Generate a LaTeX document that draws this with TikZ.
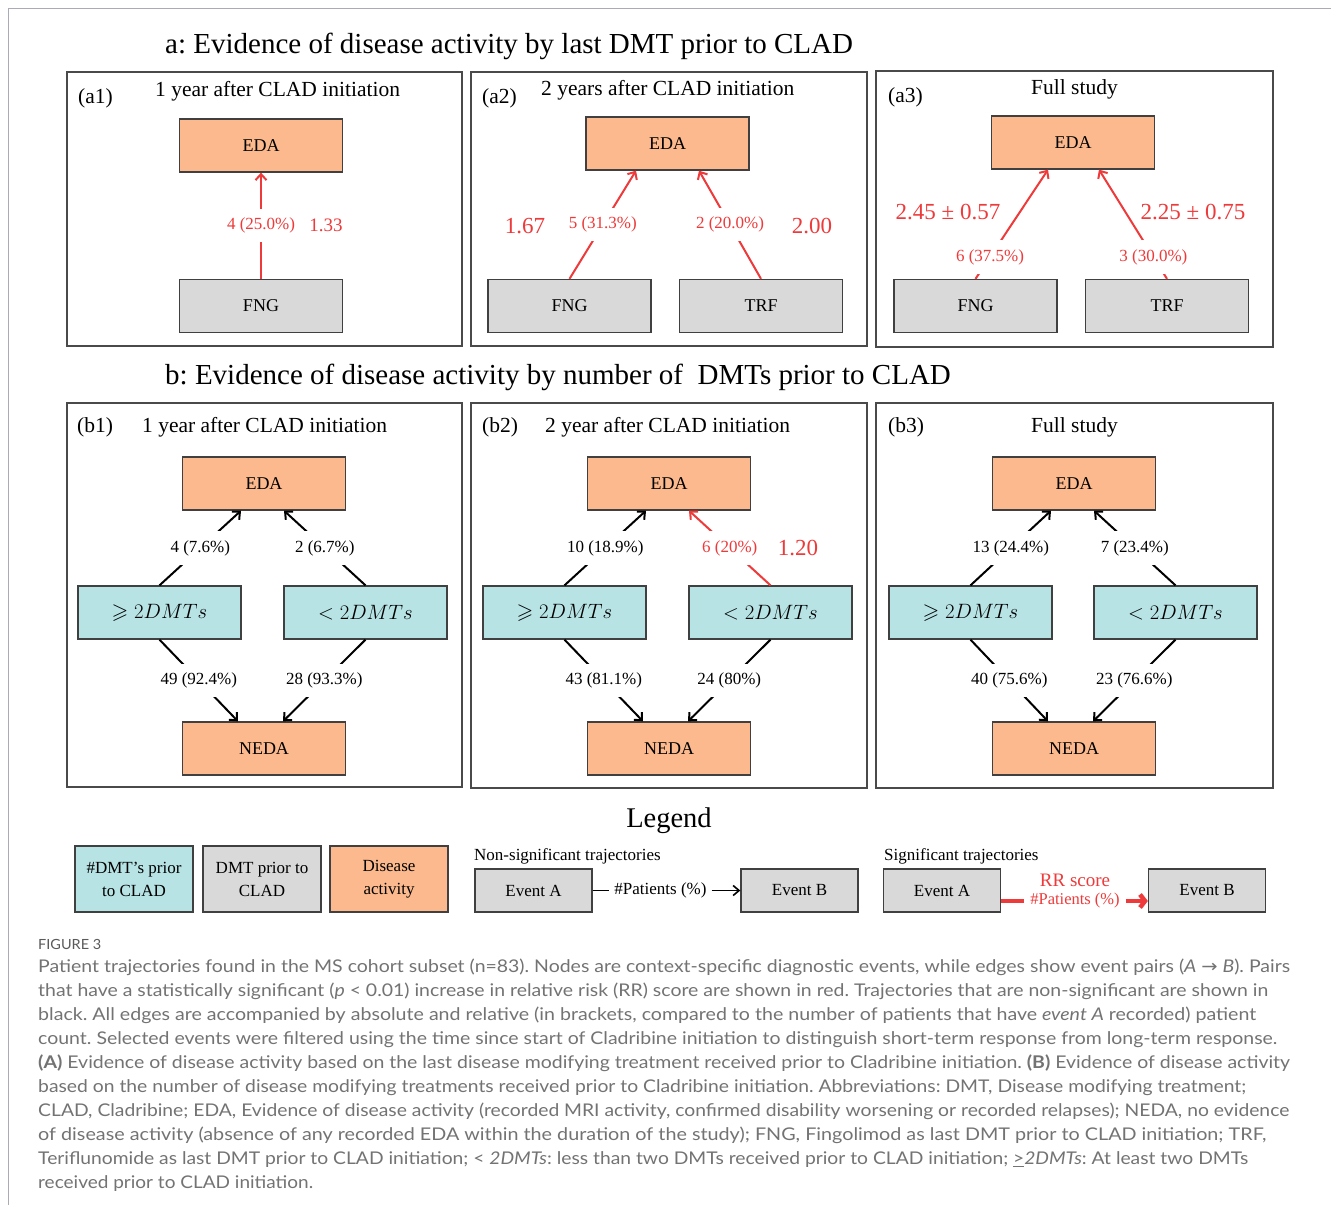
\documentclass[tikz,border=0pt]{standalone}
\usepackage{amssymb}
\usepackage{graphicx}
\usepackage[no-math]{fontspec}
\setmainfont{Liberation Serif}
\newfontfamily\capfont{Lato}
\newfontfamily\symfont{DejaVu Sans}
\usetikzlibrary{arrows.meta,calc}
\definecolor{peach}{HTML}{FBB98D}
\definecolor{greyf}{HTML}{D9D9D9}
\definecolor{cyanf}{HTML}{B7E3E5}
\definecolor{boxc}{HTML}{404040}
\definecolor{panelc}{HTML}{4A4A4A}
\definecolor{redc}{HTML}{EE3A3A}
\definecolor{framec}{HTML}{ABABB8}
\definecolor{capc}{HTML}{737373}
\definecolor{capd}{HTML}{5A5A5A}
\frenchspacing
\newcommand\fs[1]{\fontsize{#1}{#1}\selectfont}
\newcommand\capline[3]{\node[anchor=base west, inner sep=0pt, text=capc] at (38,#1) {\resizebox{#2pt}{\height}{\capfont\fs{17.5}#3}};}
\begin{document}
\begin{tikzpicture}[x=1pt,y=-1pt,
  panel/.style={draw=panelc, line width=1.4pt},
  bx/.style={draw=boxc, line width=1.3pt, minimum width=163pt, minimum height=53pt, inner sep=0pt, font=\fs{18}},
  edabox/.style={bx, fill=peach},
  dmtbox/.style={bx, fill=greyf},
  numbox/.style={bx, fill=cyanf, font=\fs{21.5}},
  lbl/.style={fill=white, inner xsep=2pt, inner ysep=9pt, font=\fs{17}},
  rlbl/.style={lbl, text=redc},
  ar/.style={line width=2pt, -{Straight Barb[length=6pt,width=11pt]}},
  rar/.style={ar, draw=redc},
  rr/.style={text=redc, font=\fs{23}},
  ptitle/.style={anchor=base west, font=\fs{21.5}, inner sep=0pt},
  mtitle/.style={anchor=base west, font=\fs{29}, inner sep=0pt},
  lgbox/.style={draw=boxc, line width=1.3pt, minimum width=118pt, minimum height=66pt, inner sep=0pt, align=center, font=\fontsize{17}{23}\selectfont},
  evbox/.style={draw=boxc, line width=1.3pt, fill=greyf, minimum width=117pt, minimum height=43pt, inner sep=0pt, font=\fs{17}},
  lgtext/.style={anchor=base west, font=\fs{17}, inner sep=0pt}
]
\useasboundingbox (0,0) rectangle (1331,1205);
\fill[white] (0,0) rectangle (1331,1205);
\draw[framec, line width=1.5pt] (8.5,1205) -- (8.5,8.5) -- (1331,8.5);

% ---------- main titles
\node[mtitle] (ta) at (165,53) {a: Evidence of disease activity by last DMT prior to CLAD};
\node[mtitle] (tb) at (165,384) {b: Evidence of disease activity by number of \ DMTs prior to CLAD};

% ---------- panels
\draw[panel] (67,72) rectangle (462,346);
\draw[panel] (471,72) rectangle (867,346);
\draw[panel] (876,71) rectangle (1273,347);
\draw[panel] (67,403) rectangle (462,787);
\draw[panel] (471,403) rectangle (867,788);
\draw[panel] (876,403) rectangle (1273,788);

% ---------- a1
\node[ptitle] (a1l) at (78,103) {(a1)};
\node[ptitle] (a1t) at (155,96) {1 year after CLAD initiation};
\node[edabox] (a1eda) at (261,145.5) {EDA};
\node[dmtbox] (a1fng) at (261,306) {FNG};
\draw[rar] (a1fng.north) -- node[rlbl] {4 (25.0\%)} (a1eda.south);
\node[text=redc, font=\fs{19}] (a1rr) at (326,225) {1.33};

% ---------- a2
\node[ptitle] (a2l) at (482,103) {(a2)};
\node[ptitle] (a2t) at (541,95) {2 years after CLAD initiation};
\node[edabox] (a2eda) at (667.5,143.5) {EDA};
\node[dmtbox] (a2fng) at (569.5,306) {FNG};
\node[dmtbox] (a2trf) at (761,306) {TRF};
\draw[rar] (a2fng.north) -- node[rlbl] {5 (31.3\%)} ([xshift=-31.5pt]a2eda.south);
\draw[rar] (a2trf.north) -- node[rlbl] {2 (20.0\%)} ([xshift=31.5pt]a2eda.south);
\node[rr] (a2rr1) at (525,226) {1.67};
\node[rr] (a2rr2) at (812,226) {2.00};

% ---------- a3
\node[ptitle] (a3l) at (888,102) {(a3)};
\node[ptitle] (a3t) at (1031,94.5) {Full study};
\node[edabox] (a3eda) at (1073,142.5) {EDA};
\node[dmtbox] (a3fng) at (975.5,306) {FNG};
\node[dmtbox] (a3trf) at (1167,306) {TRF};
\draw[rar] (a3fng.north) -- node[rlbl, pos=0.2] {6 (37.5\%)} ([xshift=-25pt]a3eda.south);
\draw[rar] (a3trf.north) -- node[rlbl, pos=0.2] {3 (30.0\%)} ([xshift=26pt]a3eda.south);
\node[rr] (a3rr1) at (948,212) {2.45 ± 0.57};
\node[rr] (a3rr2) at (1193,212) {2.25 ± 0.75};

% ---------- b1
\node[ptitle] (b1l) at (77,432) {(b1)};
\node[ptitle] (b1t) at (142,432) {1 year after CLAD initiation};
\node[edabox] (b1eda) at (264,483.5) {EDA};
\node[numbox] (b1g) at (159.5,612.5) {$\geqslant 2DMTs$};
\node[numbox] (b1s) at (365.5,612.5) {$< 2DMTs$};
\node[edabox] (b1neda) at (264,748.5) {NEDA};
\draw[ar] (b1g.north) -- node[lbl] {4 (7.6\%)} ([xshift=-23pt]b1eda.south);
\draw[ar] (b1s.north) -- node[lbl] {2 (6.7\%)} ([xshift=20pt]b1eda.south);
\draw[ar] (b1g.south) -- node[lbl] {49 (92.4\%)} ([xshift=-26pt]b1neda.north);
\draw[ar] (b1s.south) -- node[lbl] {28 (93.3\%)} ([xshift=19pt]b1neda.north);

% ---------- b2
\node[ptitle] (b2l) at (482,432) {(b2)};
\node[ptitle] (b2t) at (545,432) {2 year after CLAD initiation};
\node[edabox] (b2eda) at (669,483.5) {EDA};
\node[numbox] (b2g) at (564.5,612.5) {$\geqslant 2DMTs$};
\node[numbox] (b2s) at (770.5,612.5) {$< 2DMTs$};
\node[edabox] (b2neda) at (669,748.5) {NEDA};
\draw[ar] (b2g.north) -- node[lbl] {10 (18.9\%)} ([xshift=-23pt]b2eda.south);
\draw[rar] (b2s.north) -- node[rlbl] {6 (20\%)} ([xshift=20pt]b2eda.south);
\draw[ar] (b2g.south) -- node[lbl] {43 (81.1\%)} ([xshift=-26pt]b2neda.north);
\draw[ar] (b2s.south) -- node[lbl] {24 (80\%)} ([xshift=19pt]b2neda.north);
\node[rr] (b2rr) at (798,548) {1.20};

% ---------- b3
\node[ptitle] (b3l) at (888,432) {(b3)};
\node[ptitle] (b3t) at (1031,432) {Full study};
\node[edabox] (b3eda) at (1074,483.5) {EDA};
\node[numbox] (b3g) at (970.5,612.5) {$\geqslant 2DMTs$};
\node[numbox] (b3s) at (1175.5,612.5) {$< 2DMTs$};
\node[edabox] (b3neda) at (1074,748.5) {NEDA};
\draw[ar] (b3g.north) -- node[lbl] {13 (24.4\%)} ([xshift=-23pt]b3eda.south);
\draw[ar] (b3s.north) -- node[lbl] {7 (23.4\%)} ([xshift=20pt]b3eda.south);
\draw[ar] (b3g.south) -- node[lbl] {40 (75.6\%)} ([xshift=-26pt]b3neda.north);
\draw[ar] (b3s.south) -- node[lbl] {23 (76.6\%)} ([xshift=19pt]b3neda.north);

% ---------- legend
\node[anchor=base, font=\fs{28.5}] (lgt) at (669,827) {Legend};
\node[lgbox, fill=cyanf] (lg1) at (134,879) {\#DMT’s prior\\to CLAD};
\node[lgbox, fill=greyf] (lg2) at (262,879) {DMT prior to\\CLAD};
\node[lgbox, fill=peach] (lg3) at (389,879) {Disease\\activity};

\node[lgtext] (nst) at (474,860) {Non-significant trajectories};
\node[evbox] (nsA) at (533.5,890.5) {Event A};
\node[evbox] (nsB) at (799.5,890.5) {Event B};
\node[font=\fs{17}, inner xsep=5pt] (nsP) at (660.5,890.5) {\#Patients (\%)};
\draw[line width=1.6pt] (nsA.east) -- (nsP.west);
\draw[line width=1.6pt, -{Straight Barb[length=6pt,width=10pt]}] (nsP.east) -- (nsB.west);

\node[lgtext] (sgt) at (884,860) {Significant trajectories};
\node[evbox] (sA) at (942,890.5) {Event A};
\node[evbox] (sB) at (1207,890.5) {Event B};
\node[text=redc, font=\fs{19}] (sRR) at (1075,880) {RR score};
\node[text=redc, font=\fs{16.5}, inner xsep=6pt] (sP) at (1075,901) {\#Patients (\%)};
\draw[redc, line width=4.5pt] (sA.east |- sP) -- (sP.west);
\draw[redc, line width=4.5pt, -{Straight Barb[length=5pt,width=13pt]}] (sP.east) -- (sB.west |- sP);

% ---------- caption
\node[anchor=base west, inner sep=0pt, text=capd] (fig) at (38,949) {\resizebox{63pt}{\height}{\capfont\fs{14}FIGURE 3}};
\capline{972}{1252}{Patient trajectories found in the MS cohort subset (n=83). Nodes are context-specific diagnostic events, while edges show event pairs (\textit{A} {\symfont →} \textit{B}). Pairs}
\capline{996}{1230}{that have a statistically significant (\textit{p} < 0.01) increase in relative risk (RR) score are shown in red. Trajectories that are non-significant are shown in}
\capline{1020}{1218}{black. All edges are accompanied by absolute and relative (in brackets, compared to the number of patients that have \textit{event A} recorded) patient}
\capline{1044}{1239}{count. Selected events were filtered using the time since start of Cladribine initiation to distinguish short-term response from long-term response.}
\capline{1068}{1252}{\textbf{(A)} Evidence of disease activity based on the last disease modifying treatment received prior to Cladribine initiation. \textbf{(B)} Evidence of disease activity}
\capline{1092}{1208}{based on the number of disease modifying treatments received prior to Cladribine initiation. Abbreviations: DMT, Disease modifying treatment;}
\capline{1116}{1251}{CLAD, Cladribine; EDA, Evidence of disease activity (recorded MRI activity, confirmed disability worsening or recorded relapses); NEDA, no evidence}
\capline{1140}{1228}{of disease activity (absence of any recorded EDA within the duration of the study); FNG, Fingolimod as last DMT prior to CLAD initiation; TRF,}
\capline{1164}{1210}{Teriflunomide as last DMT prior to CLAD initiation; < \textit{2DMTs}: less than two DMTs received prior to CLAD initiation; \underline{>}\textit{2DMTs}: At least two DMTs}
\capline{1188}{275}{received prior to CLAD initiation.}
\end{tikzpicture}
\end{document}
